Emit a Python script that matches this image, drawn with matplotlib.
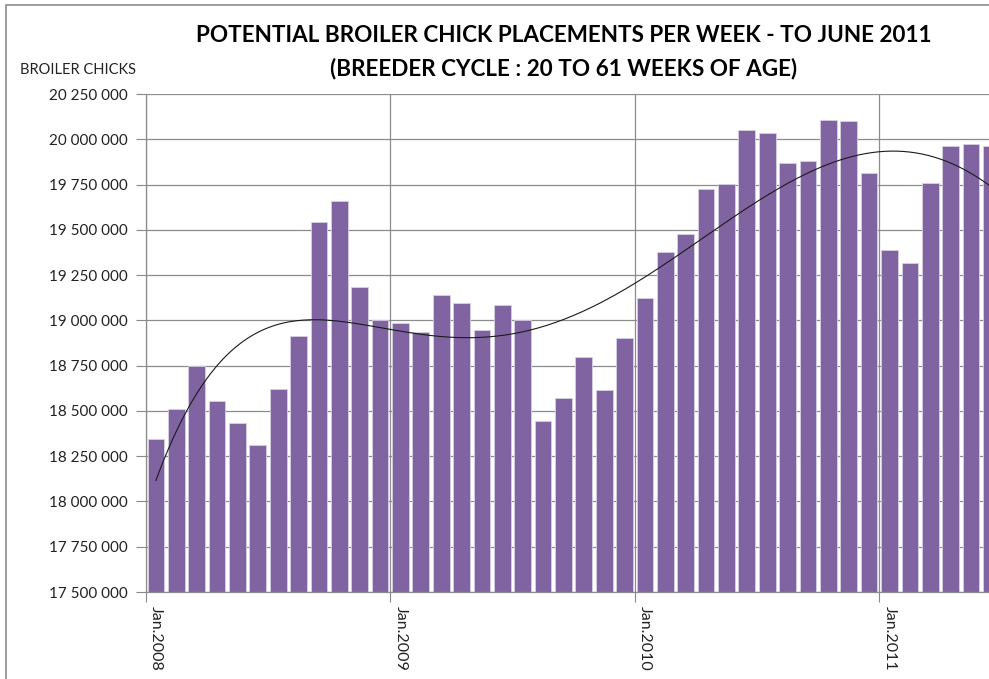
import numpy as np
import matplotlib
matplotlib.use("Agg")
from matplotlib import pyplot as plt
from matplotlib.ticker import FuncFormatter
from matplotlib.patches import Rectangle

# monthly values, Jan 2008 - Jun 2011
months = ["Jan.2008", "Feb.2008", "Mar.2008", "Apr.2008", "May.2008", "Jun.2008",
          "Jul.2008", "Aug.2008", "Sep.2008", "Oct.2008", "Nov.2008", "Dec.2008",
          "Jan.2009", "Feb.2009", "Mar.2009", "Apr.2009", "May.2009", "Jun.2009",
          "Jul.2009", "Aug.2009", "Sep.2009", "Oct.2009", "Nov.2009", "Dec.2009",
          "Jan.2010", "Feb.2010", "Mar.2010", "Apr.2010", "May.2010", "Jun.2010",
          "Jul.2010", "Aug.2010", "Sep.2010", "Oct.2010", "Nov.2010", "Dec.2010",
          "Jan.2011", "Feb.2011", "Mar.2011", "Apr.2011", "May.2011", "Jun.2011"]
chicks = [18345000, 18509000, 18748000, 18556000, 18431000, 18310000,
          18623000, 18914000, 19543000, 19657000, 19186000, 19004000,
          18984000, 18934000, 19140000, 19096000, 18945000, 19085000,
          19002000, 18446000, 18569000, 18799000, 18615000, 18901000,
          19123000, 19377000, 19477000, 19724000, 19751000, 20049000,
          20033000, 19869000, 19880000, 20104000, 20099000, 19814000,
          19387000, 19315000, 19758000, 19963000, 19976000, 19963000]
y_ticks = np.arange(17500000, 20250001, 250000)

plt.rcParams['font.family'] = ['Lato', 'DejaVu Sans']

fig = plt.figure(figsize=(9.89, 6.79), dpi=100)
slot = 20.378 / 989
n = len(chicks)
# plot area runs past the right edge of the picture, as in the original crop
ax = fig.add_axes([145.7 / 989, 87 / 679, n * slot, 498 / 679])

x = np.arange(n)
ax.bar(x, chicks, width=0.82, color="#8064A2", edgecolor="#d8cfe4", linewidth=0.6, zorder=2)

# 5th order polynomial trendline through the monthly values
xs = np.linspace(0, n - 1, 400)
p = np.polyfit(x, chicks, 5)
ax.plot(xs, np.polyval(p, xs), color="#1a1a1a", lw=0.8, zorder=3)

ax.set_xlim(-0.5, n - 0.5)
ax.set_ylim(y_ticks[0], y_ticks[-1])
ax.set_yticks(y_ticks)
ax.yaxis.set_major_formatter(FuncFormatter(lambda v, pos: f"{int(v):,}".replace(",", " ")))

jan_idx = [i for i, m in enumerate(months) if m.startswith("Jan")]
ax.set_xticks([i - 0.5 for i in jan_idx])
ax.set_xticklabels([])
ax.set_xticks(jan_idx, minor=True)
ax.set_xticklabels([months[i] for i in jan_idx], minor=True, rotation=-90, fontsize=11.5, color="#222222")
ax.tick_params(axis="x", which="major", length=7, color="#888888")
ax.tick_params(axis="x", which="minor", length=0, pad=10)
ax.tick_params(axis="y", length=7, color="#888888", labelsize=11, labelcolor="#222222", pad=6)

ax.grid(True, which="major", color="#8c8c8c", lw=0.9, zorder=0)
ax.set_axisbelow(True)
for s in ("top", "right"):
    ax.spines[s].set_visible(False)
for s in ("left", "bottom"):
    ax.spines[s].set_color("#8c8c8c")
    ax.spines[s].set_linewidth(0.9)

fig.text(564 / 989, 1 - 36 / 679, "POTENTIAL BROILER CHICK PLACEMENTS PER WEEK - TO JUNE 2011",
         ha="center", va="center", fontsize=16.2, fontweight="bold")
fig.text(564 / 989, 1 - 69 / 679, "(BREEDER CYCLE : 20 TO 61 WEEKS OF AGE)",
         ha="center", va="center", fontsize=16.2, fontweight="bold")
fig.text(20 / 989, 1 - 70 / 679, "BROILER CHICKS", ha="left", va="center", fontsize=10.5, color="#222222")

# chart frame
fig.patches.append(Rectangle((5.5 / 989, -0.1), 1.2, 1 - 5.5 / 679 + 0.1, transform=fig.transFigure,
                             fill=False, edgecolor="#8c8c8c", lw=1.2))

fig.savefig("out.png", dpi=100)
